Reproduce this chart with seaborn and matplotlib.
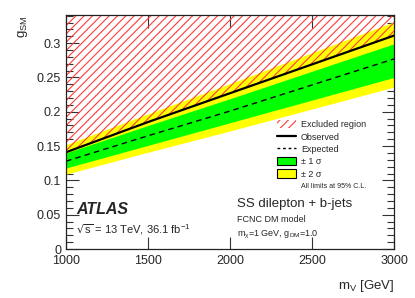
import matplotlib
matplotlib.use("Agg")
import matplotlib.pyplot as plt
import seaborn as sns
import numpy as np
import pandas as pd
from matplotlib.patches import Patch
from matplotlib.lines import Line2D
from matplotlib.ticker import MultipleLocator

mass = [1000, 1500, 2000, 2500, 3000]
observed = [0.141, 0.185, 0.227, 0.269, 0.311]
expected = [0.128, 0.165, 0.201, 0.239, 0.277]
sig1_up = [0.140, 0.180, 0.219, 0.259, 0.299]
sig1_dn = [0.118, 0.151, 0.184, 0.217, 0.250]
sig2_up = [0.152, 0.197, 0.241, 0.286, 0.331]
sig2_dn = [0.109, 0.141, 0.172, 0.204, 0.236]

df = pd.DataFrame({"mass": mass, "observed": observed, "expected": expected})

sns.set_style("ticks")
plt.rcParams["font.family"] = ["Liberation Sans", "DejaVu Sans"]
plt.rcParams["mathtext.default"] = "regular"
plt.rcParams["hatch.linewidth"] = 0.8

HATCH_COL = "#ff3a3a"

fig = plt.figure(figsize=(4.15, 2.98), dpi=100)
ax = fig.add_axes([66/415, 49/298, 328/415, 234/298])

YTOP = 0.341
ax.fill_between(mass, sig2_dn, sig2_up, color="#ffff00", lw=0)
ax.fill_between(mass, sig1_dn, sig1_up, color="#00ff00", lw=0)
ax.fill_between(mass, observed, [YTOP]*len(mass), facecolor="none",
                edgecolor=HATCH_COL, hatch="////", lw=0)
sns.lineplot(data=df, x="mass", y="observed", ax=ax, color="black", lw=1.6)
sns.lineplot(data=df, x="mass", y="expected", ax=ax, color="black", lw=1.0,
             linestyle=(0, (4, 3)))

ax.set_xlim(1000, 3000)
ax.set_ylim(0, YTOP)
ax.xaxis.set_major_locator(MultipleLocator(500))
ax.yaxis.set_minor_locator(MultipleLocator(0.01))
ax.set_yticks([0, 0.05, 0.1, 0.15, 0.2, 0.25, 0.3])
ax.set_yticklabels(["0", "0.05", "0.1", "0.15", "0.2", "0.25", "0.3"])
ax.tick_params(which="both", direction="in", top=True, right=True, labelsize=9,
               color="#333333")
ax.tick_params(which="major", length=9, width=0.8)
ax.tick_params(which="minor", length=5, width=0.8)
ax.tick_params(axis="x", pad=4)
for s in ax.spines.values():
    s.set_linewidth(0.9)
    s.set_color("#222222")

ax.set_xlabel("m$_{V}$ [GeV]", fontsize=9.5, loc="right", labelpad=8)
ax.set_ylabel("g$_{SM}$", fontsize=9.5, loc="top", labelpad=5)

ax.text(0.03, 0.15, "ATLAS", transform=ax.transAxes, fontsize=11.5,
        fontweight="bold", fontstyle="italic")
ax.text(0.03, 0.065, r"$\sqrt{s}$ = 13 TeV, 36.1 fb$^{-1}$", transform=ax.transAxes,
        fontsize=8)
ax.text(0.522, 0.18, "SS dilepton + b-jets", transform=ax.transAxes, fontsize=9.5)
ax.text(0.522, 0.115, "FCNC DM model", transform=ax.transAxes, fontsize=6.5)
ax.text(0.522, 0.055, r"m$_{\chi}$=1 GeV, g$_{DM}$=1.0", transform=ax.transAxes,
        fontsize=6.5)
ax.text(0.716, 0.262, "All limits at 95% C.L.", transform=ax.transAxes, fontsize=5)

handles = [
    Patch(facecolor="none", edgecolor=HATCH_COL, hatch="////", lw=0),
    Line2D([], [], color="black", lw=1.6),
    Line2D([], [], color="black", lw=1.0, linestyle=(0, (2, 2))),
    Patch(facecolor="#00ff00", edgecolor="black", lw=0.8),
    Patch(facecolor="#ffff00", edgecolor="black", lw=0.8),
]
labels = ["Excluded region", "Observed", "Expected", "± 1 σ", "± 2 σ"]
ax.legend(handles, labels, loc="upper left", bbox_to_anchor=(0.643, 0.55),
          frameon=False, fontsize=6.5, handlelength=2.1, handleheight=1.0,
          labelspacing=0.35, handletextpad=0.55, borderpad=0, borderaxespad=0)

fig.savefig("out.png", dpi=100)
